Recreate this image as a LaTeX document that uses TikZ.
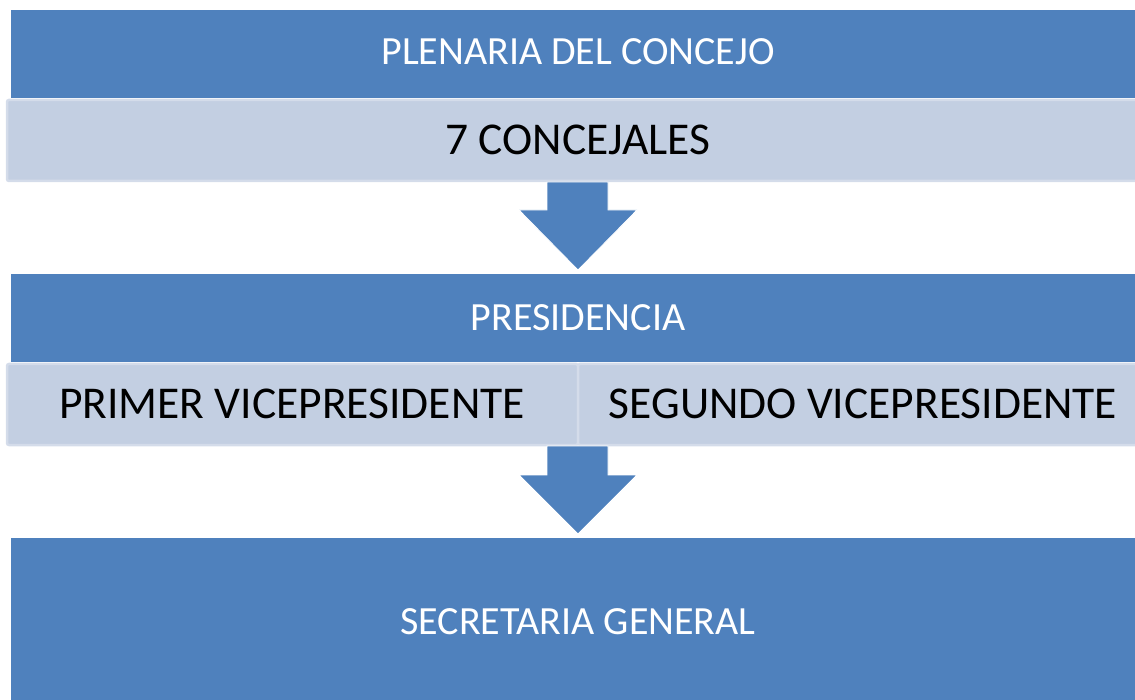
\documentclass[tikz,border=0pt]{standalone}
\usepackage{fontspec}
\setmainfont{Carlito}
\definecolor{dblue}{HTML}{4F81BD}
\definecolor{lfill}{HTML}{C3CFE2}
\definecolor{lborder}{HTML}{D4DCEA}
\begin{document}
\begin{tikzpicture}[x=1pt,y=-1pt,
  bluebox/.style={fill=dblue, draw=none},
  lightbox/.style={fill=lfill, draw=lborder, line width=2.5pt, rounded corners=2pt},
  whitetxt/.style={text=white, font=\fontsize{40}{46}\selectfont, inner sep=0pt},
  blacktxt/.style={text=black, font=\fontsize{45.5}{52}\selectfont, inner sep=0pt},
  downarrow/.style={fill=dblue, draw=white, line width=0.8pt}]
\useasboundingbox (0,0) rectangle (1135,700);
\begin{scope}
\clip (0,0) rectangle (1135,700);
% row 1
\fill[bluebox] (11,10) rectangle (1150,98);
\node[whitetxt] (plen) at (578,52) {PLENARIA DEL CONCEJO};
\draw[lightbox] (7,100) rectangle (1150,181);
\node[blacktxt] (conc) at (578,140) {7 CONCEJALES};
% arrow 1
\draw[downarrow] (547,182) -- (608,182) -- (608,210) -- (637,210) -- (578,270) -- (519,210) -- (547,210) -- cycle;
% row 2
\fill[bluebox] (11,274) rectangle (1150,362);
\node[whitetxt] (pres) at (578,318) {PRESIDENCIA};
\draw[lightbox] (7,364) rectangle (578,445);
\draw[lightbox] (578,364) rectangle (1150,445);
\node[blacktxt] (vp1) at (292,404) {PRIMER VICEPRESIDENTE};
\node[blacktxt] (vp2) at (863,404) {SEGUNDO VICEPRESIDENTE};
% arrow 2
\draw[downarrow] (547,446) -- (608,446) -- (608,475) -- (637,475) -- (578,534) -- (519,475) -- (547,475) -- cycle;
% row 3
\fill[bluebox] (11,538) rectangle (1150,710);
\node[whitetxt] (sec) at (578,622) {SECRETARIA GENERAL};
\end{scope}
\end{tikzpicture}
\end{document}
